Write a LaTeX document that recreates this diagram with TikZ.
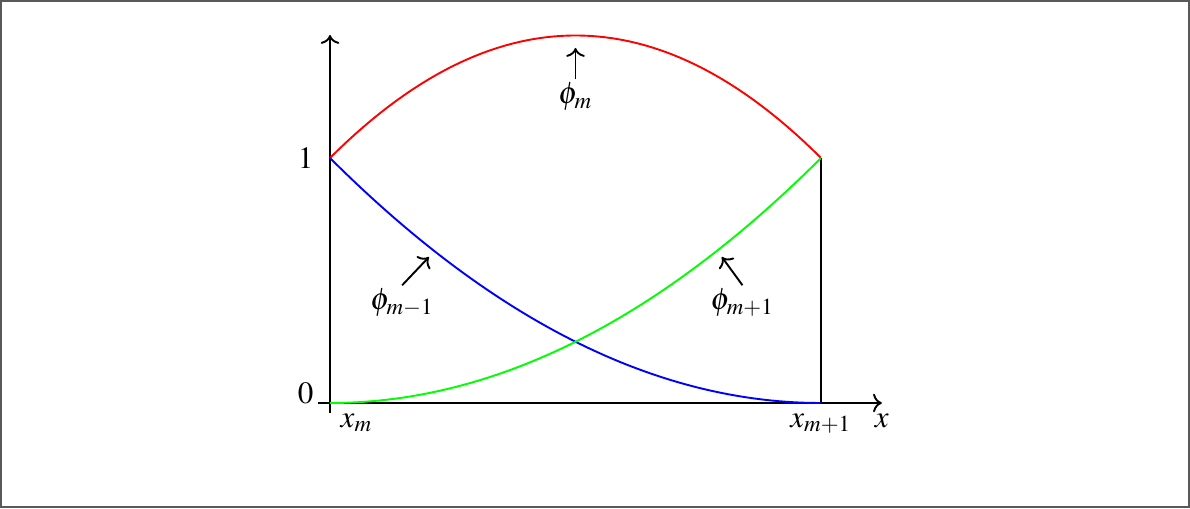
\documentclass[tikz,border=0pt]{standalone}
\usepackage{mathptmx}
\usepackage{tikz}
\usetikzlibrary{arrows.meta}
\begin{document}
\begin{tikzpicture}[x=5.892cm,y=2.94cm,line width=0.65pt,lbl/.style={inner sep=1pt},
  font=\fontsize{10.6}{12}\selectfont]
\useasboundingbox(-0.6721,-0.4286)rectangle(1.7515,1.6449);
\draw[gray!70!black,line width=0.7pt](-0.6700,-0.4244)rectangle(1.7494,1.6407);
% axes
\draw[->](-0.0244,0)--(1.124,0)node[below](xlab){$x$};
\draw[->](0,-0.041)--(0,1.502);
\draw(1,0)--(1,1);
\draw(-0.012,1)node[left](one){$1$}
(-0.012,0.041)node[left](zero){$0$}
(0,0)node[below right](xm){$x_m$}
(1,0)node[below](xmp){$x_{m+1}$};
% shape functions
\draw[red,domain=0:1,samples=60]plot(\x,{1+2*\x*(1-\x)});
\draw[blue,domain=0:1,samples=60]plot(\x,{(1-\x)^2});
\draw[green,domain=0:1,samples=60]plot(\x,{\x^2});
% labels
\coordinate(tipm)at(0.5,1.449);
\coordinate(tipa)at(0.2016,0.596);
\coordinate(tipb)at(0.798,0.596);
\node[lbl](phim)at(0.5,1.249){$\phi_m$};
\node[lbl](phia)at(0.147,0.408){$\phi_{m-1}$};
\node[lbl](phib)at(0.84,0.408){$\phi_{m+1}$};
\draw[->](phim.north)--(tipm);
\draw[->](phia.north)--(tipa);
\draw[->](phib.north)--(tipb);
\end{tikzpicture}
\end{document}
